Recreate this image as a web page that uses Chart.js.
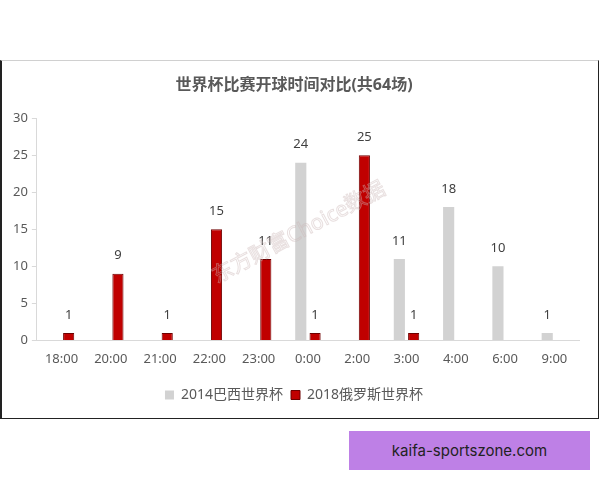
<!DOCTYPE html>
<html>
<head>
<meta charset="utf-8">
<script src="https://cdn.jsdelivr.net/npm/chart.js@4.4.1/dist/chart.umd.min.js"></script>
<style>
	body { margin: 0; background: #fff; width: 600px; height: 480px; position: relative; overflow: hidden; }
	#box { position: absolute; left: 0; top: 60px; width: 596px; height: 357px; border: 1px solid #222; border-top-color: #d0d0d0; border-left-width: 2px; }
	#tag { position: absolute; left: 349px; top: 431px; width: 241px; height: 39px; background: #be80e6; color: #222; font: 15px Inter, "Noto Sans", sans-serif; line-height: 39px; text-align: center; }
</style>
</head>
<body>
<div id="box"><canvas id="chart-kickoff"></canvas></div>
<div id="tag">kaifa-sportszone.com</div>
<script>
var times = ['18:00','20:00','21:00','22:00','23:00','0:00','2:00','3:00','4:00','6:00','9:00'];
var brazil2014 = [0, 0, 0, 0, 0, 24, 0, 11, 18, 10, 1];
var russia2018 = [1, 9, 1, 15, 11, 1, 25, 1, 0, 0, 0];
var yTicks = [0, 5, 10, 15, 20, 25, 30];

var fontFamily = '"Noto Sans", "Noto Sans CJK SC", sans-serif';

// value labels above non-zero bars
var valueLabels = {
	id: 'valueLabels',
	afterDatasetsDraw: function(chart) {
		var ctx = chart.ctx;
		ctx.save();
		ctx.font = '13px ' + fontFamily;
		ctx.fillStyle = '#404040';
		ctx.textAlign = 'center';
		ctx.textBaseline = 'middle';
		chart.data.datasets.forEach(function(ds, i) {
			chart.getDatasetMeta(i).data.forEach(function(bar, j) {
				if (ds.data[j] > 0) ctx.fillText(ds.data[j], bar.x, bar.y - 18);
			});
		});
		ctx.restore();
	}
};

// watermark
var watermark = {
	id: 'watermark',
	afterDatasetsDraw: function(chart) {
		var ctx = chart.ctx;
		ctx.save();
		ctx.translate(297, 172);
		ctx.rotate(-28 * Math.PI / 180);
		ctx.font = '21px ' + fontFamily;
		ctx.textAlign = 'center';
		ctx.textBaseline = 'middle';
		ctx.strokeStyle = 'rgba(205,185,185,0.45)';
		ctx.lineWidth = 1;
		ctx.strokeText('东方财富Choice数据', 0, 0);
		ctx.restore();
	}
};

var el = document.getElementById('chart-kickoff');
el.width = 596; el.height = 357;
new Chart(el, {
	type: 'bar',
	data: {
		labels: times,
		datasets: [{
			label: '2014巴西世界杯',
			data: brazil2014,
			backgroundColor: '#d2d2d2',
			borderWidth: 0
		}, {
			label: '2018俄罗斯世界杯',
			data: russia2018,
			backgroundColor: '#c00000',
			borderColor: '#6e0000',
			borderWidth: 1
		}]
	},
	options: {
		responsive: false,
		animation: false,
		categoryPercentage: 0.58,
		barPercentage: 0.78,
		layout: { padding: { left: 7, right: 19, top: 0, bottom: 6 } },
		plugins: {
			title: {
				display: true,
				text: '世界杯比赛开球时间对比(共64场)',
				color: '#595959',
				font: { family: fontFamily, size: 16, weight: 'bold' },
				padding: { top: 15, bottom: 23 }
			},
			legend: {
				position: 'bottom',
				labels: {
					color: '#595959',
					boxWidth: 9,
					boxHeight: 9,
					padding: 8,
					font: { family: fontFamily, size: 14 }
				}
			},
			tooltip: { enabled: false }
		},
		scales: {
			x: {
				grid: { display: false },
				border: { color: '#d9d9d9' },
				afterFit: function(s) { s.height += 10; },
				ticks: { color: '#595959', font: { family: fontFamily, size: 13 }, padding: 3, maxRotation: 0 }
			},
			y: {
				min: 0,
				max: 30,
				afterBuildTicks: function(s) { s.ticks = yTicks.map(function(v) { return { value: v }; }); },
				grid: { drawOnChartArea: false, tickLength: 5, color: '#d9d9d9' },
				border: { color: '#d9d9d9' },
				ticks: { color: '#595959', font: { family: fontFamily, size: 13 }, padding: 4 }
			}
		}
	},
	plugins: [valueLabels, watermark]
});
</script>
</body>
</html>
